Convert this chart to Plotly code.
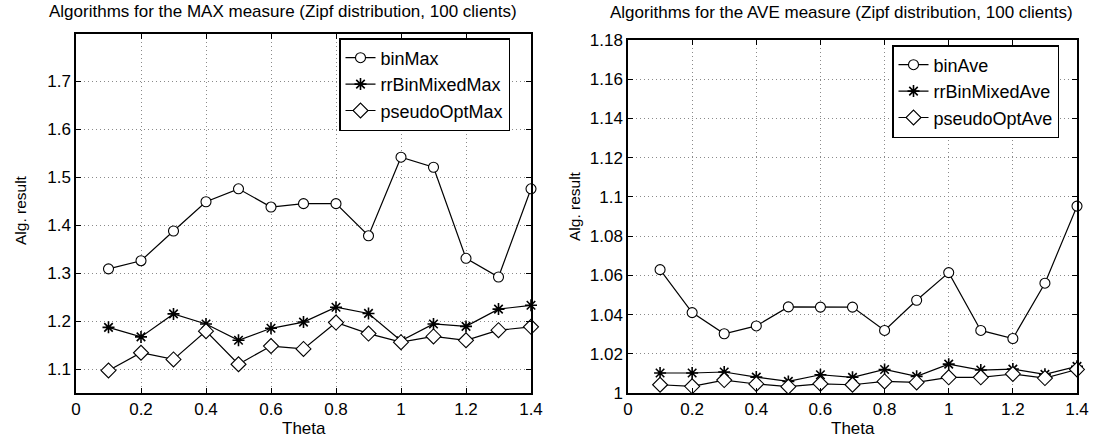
import plotly.graph_objects as go

theta = [0.1, 0.2, 0.3, 0.4, 0.5, 0.6, 0.7, 0.8, 0.9, 1.0, 1.1, 1.2, 1.3, 1.4]

bin_max = [1.309, 1.326, 1.388, 1.449, 1.476, 1.438, 1.445, 1.445, 1.378, 1.542, 1.521, 1.331, 1.292, 1.476]
rr_bin_mixed_max = [1.187, 1.167, 1.215, 1.194, 1.160, 1.185, 1.198, 1.229, 1.216, 1.159, 1.194, 1.189, 1.225, 1.233]
pseudo_opt_max = [1.097, 1.134, 1.120, 1.179, 1.110, 1.148, 1.142, 1.197, 1.174, 1.156, 1.168, 1.160, 1.181, 1.188]

bin_ave = [1.0629, 1.0410, 1.0302, 1.0342, 1.0439, 1.0438, 1.0438, 1.0319, 1.0473, 1.0614, 1.0319, 1.0278, 1.0560, 1.0953]
rr_bin_mixed_ave = [1.0102, 1.0102, 1.0107, 1.0081, 1.0059, 1.0093, 1.0080, 1.0120, 1.0085, 1.0147, 1.0117, 1.0122, 1.0095, 1.0136]
pseudo_opt_ave = [1.0042, 1.0034, 1.0066, 1.0046, 1.0032, 1.0047, 1.0042, 1.0059, 1.0054, 1.0080, 1.0080, 1.0097, 1.0076, 1.0120]

x_ticks = [0, 0.2, 0.4, 0.6, 0.8, 1.0, 1.2, 1.4]
x_ticktext = ["0", "0.2", "0.4", "0.6", "0.8", "1", "1.2", "1.4"]
left_yticks = [1.1, 1.2, 1.3, 1.4, 1.5, 1.6, 1.7]
left_yticktext = ["1.1", "1.2", "1.3", "1.4", "1.5", "1.6", "1.7"]
right_yticks = [1.0, 1.02, 1.04, 1.06, 1.08, 1.1, 1.12, 1.14, 1.16, 1.18]
right_yticktext = ["1", "1.02", "1.04", "1.06", "1.08", "1.1", "1.12", "1.14", "1.16", "1.18"]

left_title = "Algorithms for the MAX measure (Zipf distribution, 100 clients)"
right_title = "Algorithms for the AVE measure (Zipf distribution, 100 clients)"

FONT = "Liberation Sans, Arial, Helvetica, sans-serif"
W, H = 1111, 440

fig = go.Figure()

line = dict(color="black", width=1.2)

def add(x, y, name, symbol, xa, ya, legend):
    if symbol == "asterisk-open":
        marker = dict(symbol=symbol, size=10, color="black", line=dict(color="black", width=1.6))
    elif symbol == "diamond":
        marker = dict(symbol=symbol, size=11.5, color="white", line=dict(color="black", width=1.1))
    else:
        marker = dict(symbol=symbol, size=10, color="white", line=dict(color="black", width=1.1))
    fig.add_trace(go.Scatter(
        x=x, y=y, name=name, mode="lines+markers",
        line=line, marker=marker, cliponaxis=False,
        xaxis=xa, yaxis=ya, legend=legend,
    ))

add(theta, bin_max, "binMax", "circle", "x", "y", "legend")
add(theta, rr_bin_mixed_max, "rrBinMixedMax", "asterisk-open", "x", "y", "legend")
add(theta, pseudo_opt_max, "pseudoOptMax", "diamond", "x", "y", "legend")
add(theta, bin_ave, "binAve", "circle", "x2", "y2", "legend2")
add(theta, rr_bin_mixed_ave, "rrBinMixedAve", "asterisk-open", "x2", "y2", "legend2")
add(theta, pseudo_opt_ave, "pseudoOptAve", "diamond", "x2", "y2", "legend2")

axis_common = dict(
    showline=True, linecolor="black", linewidth=1.5, mirror="ticks",
    ticks="inside", ticklen=5, tickcolor="black", tickwidth=1,
    showgrid=True, gridcolor="#8a8a8a", griddash="1px,3px", gridwidth=1,
    zeroline=False, automargin=False,
    tickfont=dict(family=FONT, size=17, color="black"),
)

legend_common = dict(
    xanchor="left", yanchor="top",
    bgcolor="white", bordercolor="black", borderwidth=1.5,
    font=dict(family=FONT, size=18, color="black"),
    tracegroupgap=0, itemwidth=30,
)

fig.update_layout(
    template="none",
    width=W, height=H,
    margin=dict(l=0, r=0, t=0, b=0, autoexpand=False),
    paper_bgcolor="white", plot_bgcolor="white",
    font=dict(family=FONT, size=15, color="black"),
    xaxis=dict(domain=[76 / W, 531 / W], range=[0, 1.4], tickvals=x_ticks, ticktext=x_ticktext,
               anchor="y", **axis_common),
    yaxis=dict(domain=[1 - 393 / H, 1 - 34 / H], range=[1.05, 1.799], tickvals=left_yticks,
               ticktext=left_yticktext, anchor="x", **axis_common),
    xaxis2=dict(domain=[628 / W, 1077 / W], range=[0, 1.4], tickvals=x_ticks, ticktext=x_ticktext,
                anchor="y2", **axis_common),
    yaxis2=dict(domain=[1 - 393 / H, 1 - 40 / H], range=[1.0, 1.18], tickvals=right_yticks,
                ticktext=right_yticktext, anchor="x2", **axis_common),
    legend=dict(x=339 / W, y=1 - 38 / H, **legend_common),
    legend2=dict(x=892 / W, y=1 - 45 / H, **legend_common),
    showlegend=True,
)

annotations = [
    dict(text=left_title, x=283 / W, y=1 - 12 / H, xref="paper", yref="paper",
         showarrow=False, font=dict(family=FONT, size=17), xanchor="center", yanchor="middle"),
    dict(text=right_title, x=841 / W, y=1 - 13 / H, xref="paper", yref="paper",
         showarrow=False, font=dict(family=FONT, size=17), xanchor="center", yanchor="middle"),
    dict(text="Theta", x=(76 + 531) / 2 / W, y=1 - 428 / H, xref="paper", yref="paper",
         showarrow=False, font=dict(family=FONT, size=17), xanchor="center", yanchor="middle"),
    dict(text="Theta", x=(628 + 1077) / 2 / W, y=1 - 428 / H, xref="paper", yref="paper",
         showarrow=False, font=dict(family=FONT, size=17), xanchor="center", yanchor="middle"),
    dict(text="Alg. result", x=20 / W, y=1 - 210 / H, xref="paper", yref="paper", textangle=-90,
         showarrow=False, font=dict(family=FONT, size=15.5), xanchor="center", yanchor="middle"),
    dict(text="Alg. result", x=574 / W, y=1 - 206 / H, xref="paper", yref="paper", textangle=-90,
         showarrow=False, font=dict(family=FONT, size=15.5), xanchor="center", yanchor="middle"),
]
fig.update_layout(annotations=annotations)

fig.write_html("out.html",
               config={"displayModeBar": False},
               post_script="document.body.style.margin='0';document.body.style.padding='0';")
